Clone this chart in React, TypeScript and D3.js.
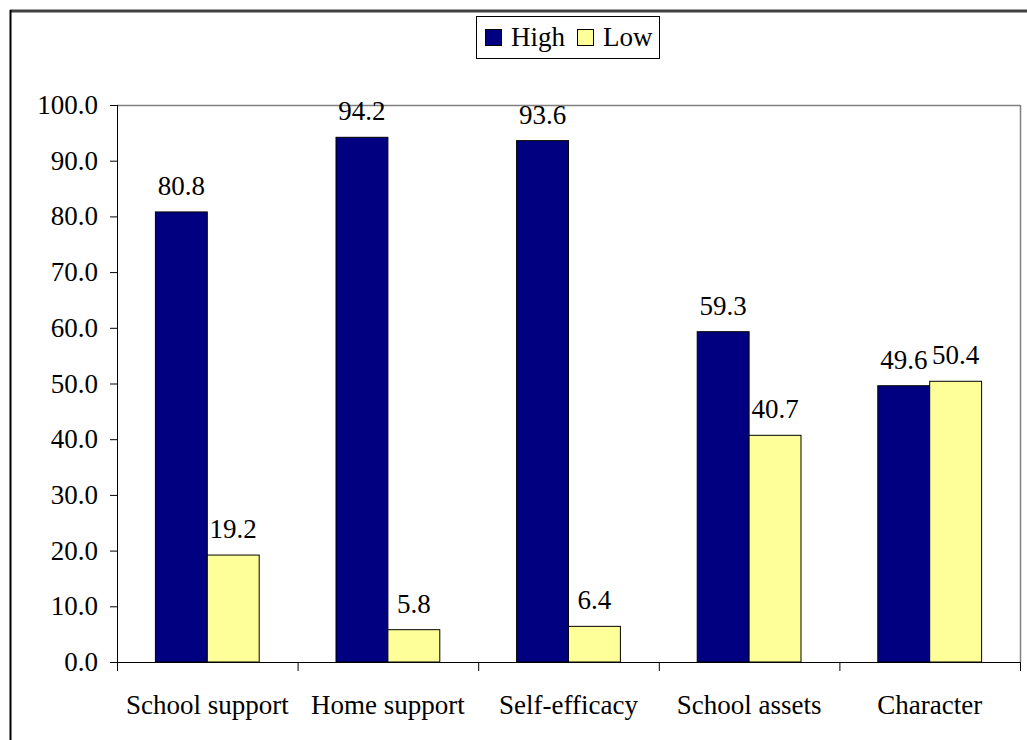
import React from "react";
import * as d3 from "d3";

const categories = ["School support", "Home support", "Self-efficacy", "School assets", "Character"];
const seriesNames = ["High", "Low"];
const highValues = [80.8, 94.2, 93.6, 59.3, 49.6];
const lowValues = [19.2, 5.8, 6.4, 40.7, 50.4];
const yTicks = [0, 10, 20, 30, 40, 50, 60, 70, 80, 90, 100];
const colors = ["#000080", "#FFFF99"];

const W = 1027;
const H = 740;
const plot = { left: 117, right: 1020, top: 105, bottom: 662 };
const FONT = '"Liberation Serif", "DejaVu Serif", serif';
const FS = 27;

export default function App() {
  const x0 = d3.scaleBand<string>().domain(categories).range([plot.left, plot.right]).padding(0);
  const bw = x0.bandwidth();
  const x1 = d3.scaleBand<string>().domain(seriesNames).range([0, bw]).paddingInner(0).paddingOuter(0.74);
  const y = d3.scaleLinear().domain([0, 100]).range([plot.bottom, plot.top]);
  const series = [highValues, lowValues];
  const ts: React.CSSProperties = { fontFamily: FONT, fontSize: FS };

  return (
    <svg width={W} height={H} style={{ position: "absolute", left: 0, top: 0, background: "#fff", fontFamily: FONT }}>
      <rect x={0} y={0} width={W} height={H} fill="#fff" />
      {/* outer frame */}
      <line x1={10} x2={W} y1={11} y2={11} stroke="#404040" strokeWidth={3} />
      <line x1={10.5} x2={10.5} y1={10} y2={H} stroke="#000" strokeWidth={2} />

      {/* plot border */}
      <line x1={plot.left} x2={plot.right} y1={plot.top + 0.5} y2={plot.top + 0.5} stroke="#808080" strokeWidth={1.5} />
      <line x1={plot.right + 0.5} x2={plot.right + 0.5} y1={plot.top} y2={plot.bottom} stroke="#808080" strokeWidth={1.5} />

      {/* bars */}
      {series.map((vals, si) =>
        vals.map((v, ci) => {
          const bx = (x0(categories[ci]) as number) + (x1(seriesNames[si]) as number);
          const by = y(v);
          return (
            <rect
              key={`b-${si}-${ci}`}
              x={bx}
              y={by}
              width={x1.bandwidth()}
              height={plot.bottom - by}
              fill={colors[si]}
              stroke="#000"
              strokeWidth={1}
            />
          );
        })
      )}

      {/* value labels */}
      {series.map((vals, si) =>
        vals.map((v, ci) => {
          const cx = (x0(categories[ci]) as number) + (x1(seriesNames[si]) as number) + x1.bandwidth() / 2;
          return (
            <text key={`l-${si}-${ci}`} x={cx} y={y(v) - 17} textAnchor="middle" style={ts} fill="#000">
              {v.toFixed(1)}
            </text>
          );
        })
      )}

      {/* y axis */}
      <line x1={plot.left + 0.5} x2={plot.left + 0.5} y1={plot.top} y2={plot.bottom} stroke="#000" strokeWidth={1} />
      {yTicks.map((t) => (
        <g key={`yt-${t}`}>
          <line x1={plot.left - 7} x2={plot.left} y1={y(t) + 0.5} y2={y(t) + 0.5} stroke="#000" strokeWidth={1} />
          <text x={98} y={y(t) + 9} textAnchor="end" style={ts} fill="#000">
            {t.toFixed(1)}
          </text>
        </g>
      ))}

      {/* x axis */}
      <line x1={plot.left} x2={plot.right + 1} y1={plot.bottom + 0.5} y2={plot.bottom + 0.5} stroke="#000" strokeWidth={1} />
      {[...categories.map((c) => x0(c) as number), plot.right].map((xv, i) => (
        <line key={`xt-${i}`} x1={xv + 0.5} x2={xv + 0.5} y1={plot.bottom} y2={plot.bottom + 9} stroke="#000" strokeWidth={1} />
      ))}
      {categories.map((c) => (
        <text key={`xl-${c}`} x={(x0(c) as number) + bw / 2} y={714} textAnchor="middle" style={ts} fill="#000">
          {c}
        </text>
      ))}

      {/* legend */}
      <rect x={476.5} y={16.5} width={183} height={42} fill="#fff" stroke="#000" strokeWidth={1} />
      {seriesNames.map((s, i) => {
        const lx = i === 0 ? 485 : 577;
        return (
          <g key={`lg-${s}`}>
            <rect x={lx + 0.5} y={29.5} width={16} height={16} fill={colors[i]} stroke="#000" strokeWidth={1} />
            <text x={lx + 26} y={46} style={ts} fill="#000">
              {s}
            </text>
          </g>
        );
      })}
    </svg>
  );
}
